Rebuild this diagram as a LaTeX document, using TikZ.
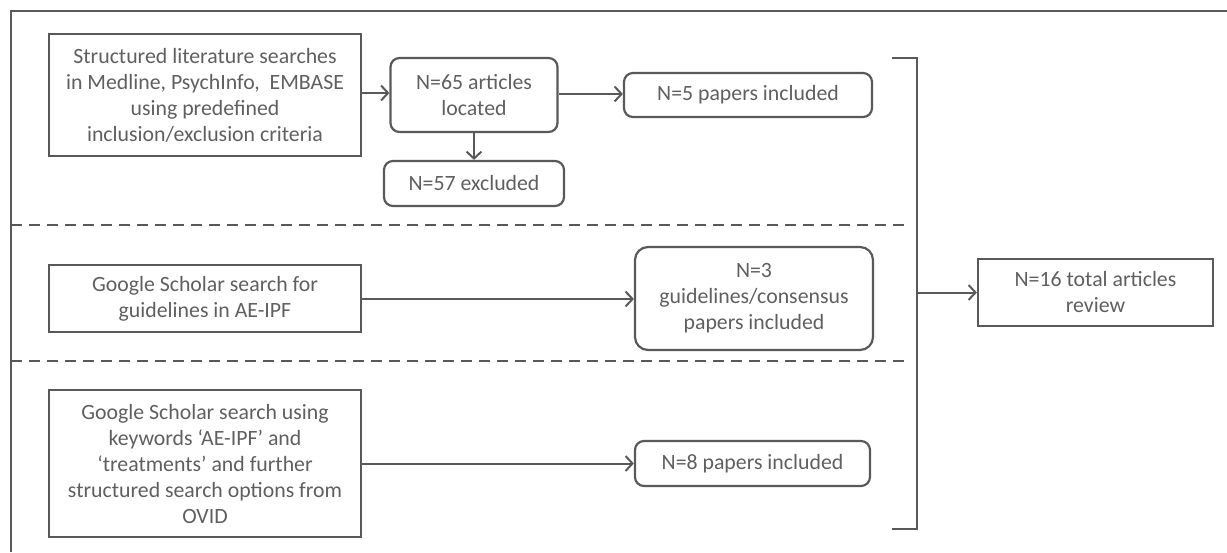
\documentclass[tikz,border=0pt]{standalone}
\usepackage{fontspec}
\setmainfont{Carlito}
\usetikzlibrary{arrows.meta}
\definecolor{ln}{HTML}{595959}
\definecolor{tx}{HTML}{5F5F5F}
\begin{document}
\begin{tikzpicture}[x=1pt,y=-1pt,
  every node/.style={font=\fontsize{21.8}{26}\selectfont, text=tx},
  sq/.style={draw=ln, line width=2.2pt, align=center, inner sep=1pt},
  rd/.style={sq, rounded corners=9pt},
  arr/.style={draw=ln, line width=2pt, -{Straight Barb[length=7pt,width=15pt,line width=2pt]}},
  ln2/.style={draw=ln, line width=2pt},
  dsh/.style={draw=ln, line width=2pt, dash pattern=on 11pt off 7pt}]
\useasboundingbox (0,0) rectangle (1227,552);
\draw[ln2] (1227,11) -- (11,11) -- (11,552);

\node[sq, minimum width=312pt, minimum height=122pt] (A) at (205,95)
  {Structured literature searches\\in Medline, PsychInfo,\ \ EMBASE\\using predefined\\inclusion/exclusion criteria};
\node[rd, minimum width=167pt, minimum height=74pt] (B) at (474,95)
  {N=65 articles\\located};
\node[rd, minimum width=248pt, minimum height=44pt] (C) at (748,95)
  {N=5 papers included};
\node[rd, minimum width=180pt, minimum height=45pt] (D) at (474,183.5)
  {N=57 excluded};

\draw[dsh] (11,225) -- (909,225);
\draw[dsh] (11,361) -- (909,361);

\node[sq, minimum width=312pt, minimum height=67pt] (E) at (205,298.5)
  {Google Scholar search for\\guidelines in AE-IPF};
\node[rd, rounded corners=13pt, minimum width=238pt, minimum height=103pt] (F) at (754,298.5)
  {N=3\\guidelines/consensus\\papers included};

\node[sq, minimum width=312pt, minimum height=147pt] (G) at (205,463.5)
  {Google Scholar search using\\keywords ‘AE-IPF’ and\\‘treatments’ and further\\structured search options from\\OVID};
\node[rd, minimum width=235pt, minimum height=45pt] (H) at (752.5,463.5)
  {N=8 papers included};

\node[sq, minimum width=235pt, minimum height=67pt] (I) at (1095.5,292.5)
  {N=16 total articles\\review};

\draw[arr] (A.east |- 0,93) -- (B.west |- 0,93);
\draw[arr] (B.east |- 0,94) -- (C.west |- 0,94);
\draw[arr] (B.south) -- (D.north);
\draw[arr] (E.east |- 0,299) -- (F.west |- 0,299);
\draw[arr] (G.east) -- (H.west);

\coordinate (bt) at (892,58);
\coordinate (bb) at (892,529);
\coordinate (bm) at (917,292.5);
\draw[ln2] (bt) -- (917,58) -- (917,529) -- (bb);
\draw[arr] (bm) -- (I.west);
\end{tikzpicture}
\end{document}
